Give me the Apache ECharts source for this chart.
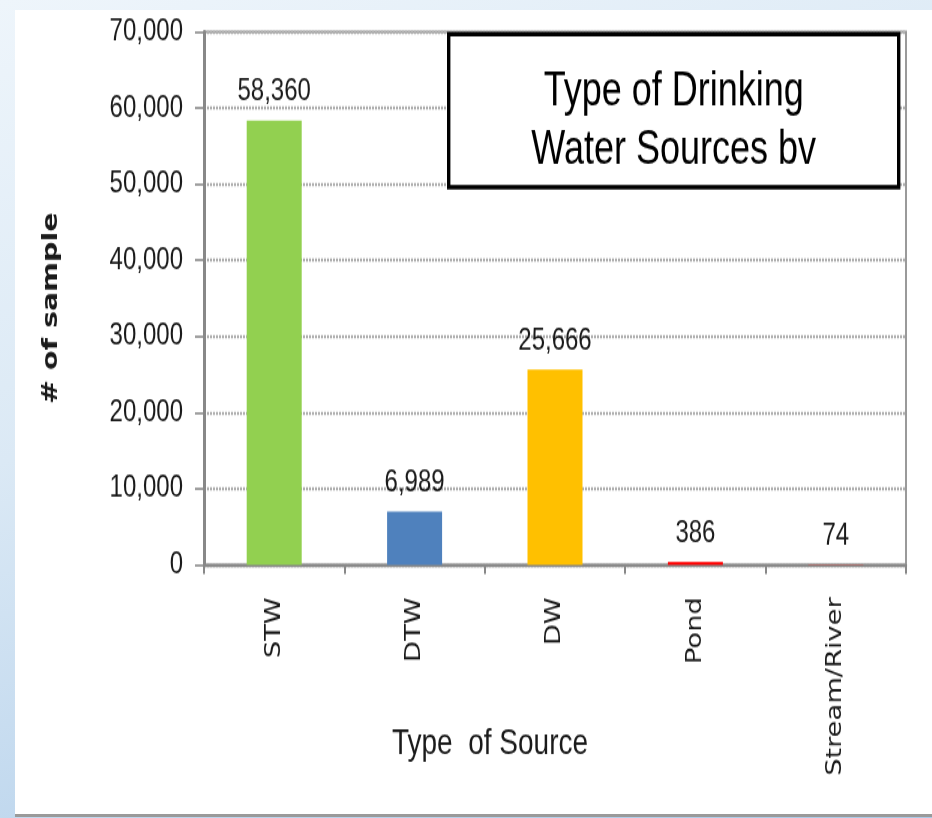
<!DOCTYPE html>
<html><head><meta charset="utf-8">
<script src="https://cdn.jsdelivr.net/npm/echarts@6/dist/echarts.min.js"></script>
<style>
html,body{margin:0;padding:0;width:932px;height:818px;overflow:hidden;}
body{background:linear-gradient(160deg,#eef5fb 0%,#dbe9f5 40%,#a9c9e8 100%);position:relative;}
#panel{position:absolute;left:15px;top:10px;width:917px;height:804px;background:#fff;border-bottom:3px solid #9a9a9a;}
#chart{position:absolute;left:0;top:0;width:932px;height:629.23px;transform:scaleY(1.3);transform-origin:0 0;}
</style></head>
<body><div id="panel"></div><div id="chart"></div>
<script>
const categories = ['STW', 'DTW', 'DW', 'Pond', 'Stream/River'];
const values = [58360, 6989, 25666, 386, 74];
const barColors = ['#92D050', '#4F81BD', '#FFC000', '#FF0000', '#C0504D'];
const yTicks = [0, 10000, 20000, 30000, 40000, 50000, 60000, 70000];
const titleLines = ['Type of Drinking', 'Water Sources bv'];

const SANS = '"Liberation Sans", Arial, sans-serif';
const chart = echarts.init(document.getElementById('chart'), null, {renderer: 'canvas'});
const fmt = v => v.toLocaleString('en-US');
chart.setOption({
  animation: false,
  backgroundColor: 'transparent',
  grid: {left: 204, right: 26, top: 24.6, bottom: 194.6, show: true, borderColor: '#9a9a9a', borderWidth: 2,
    containLabel: false, outerBoundsMode: 'none'},
  xAxis: {
    type: 'category', data: categories,
    name: 'Type  of Source', nameLocation: 'middle', nameGap: 124, nameMoveOverlap: false,
    nameTextStyle: {fontFamily: SANS, fontSize: 28, color: '#1a1a1a', padding: [0, 130, 0, 0]},
    axisLine: {lineStyle: {color: '#888', width: 2.4}},
    axisTick: {show: true, length: 7, lineStyle: {color: '#888', width: 2}},
    axisLabel: {rotate: 90, margin: 25, fontFamily: '"DejaVu Sans", sans-serif', fontSize: 21, color: '#1a1a1a'}
  },
  yAxis: {
    type: 'value', min: 0, max: 70000, interval: 10000,
    name: '# of sample', nameLocation: 'middle', nameGap: 142, nameRotate: 90, nameMoveOverlap: false,
    nameTextStyle: {fontFamily: '"DejaVu Sans", sans-serif', fontWeight: 'bold', fontSize: 22, color: '#1a1a1a', padding: [0, 15, 0, 0]},
    axisLine: {show: true, lineStyle: {color: '#888', width: 3}},
    axisTick: {show: true, length: 9, lineStyle: {color: '#888', width: 1.6}},
    axisLabel: {margin: 21, fontFamily: SANS, fontSize: 24, color: '#1a1a1a',
      formatter: v => yTicks.includes(v) ? fmt(v) : ''},
    splitLine: {show: true, lineStyle: {color: '#b0b0b0', width: 2.3, type: [2, 1]}}
  },
  series: [{
    type: 'bar', barWidth: 55,
    data: values.map((v, i) => ({value: v, itemStyle: {color: barColors[i]}})),
    label: {show: true, position: 'top', distance: 10, formatter: p => fmt(p.value),
      fontFamily: SANS, fontSize: 24, color: '#1a1a1a'}
  }],
  graphic: [{
    type: 'group', left: 447, top: 24.6, z: 100,
    children: [
      {type: 'rect', z: 100, shape: {x: 0, y: 0, width: 450, height: 117.7}, style: {fill: '#fff', stroke: '#000', lineWidth: 3.4}},
      {type: 'text', z: 101, style: {x: 225, y: 67, text: titleLines.join('\n'), align: 'center', verticalAlign: 'middle',
        fontFamily: SANS, fontSize: 36, lineHeight: 44.6, fill: '#000'}}
    ]
  }]
});
</script></body></html>
